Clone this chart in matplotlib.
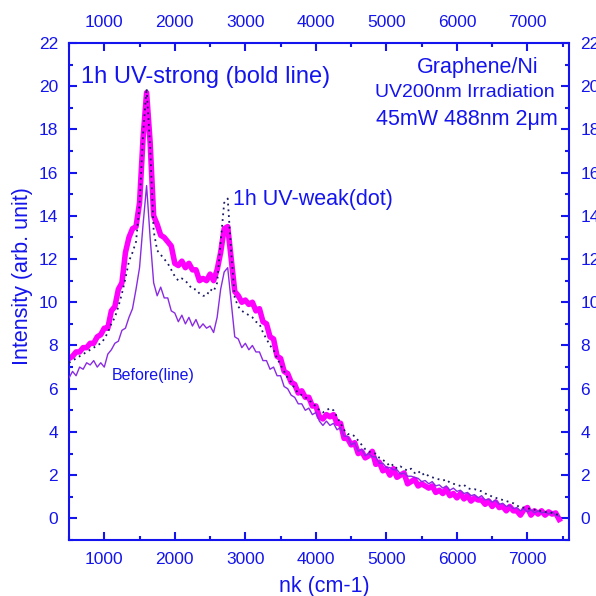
import numpy as np
import matplotlib
matplotlib.use("Agg")
import matplotlib.pyplot as plt
from matplotlib.ticker import MultipleLocator

plt.rcParams['font.family'] = ['Liberation Sans', 'DejaVu Sans']

# wavenumber grid (cm-1), one value every 50
wn = list(range(500, 7500, 50))

# 1h UV-strong (bold magenta line)
strong = [7.4, 7.5, 7.7, 7.7, 7.9, 7.9, 8.1, 8.1, 8.4, 8.5,
          8.8, 8.8, 9.6, 9.8, 10.6, 10.9, 12.3, 13.0, 13.4, 13.5,
          14.6, 17.6, 19.7, 17.4, 14.0, 13.6, 13.1, 13.0, 12.8, 12.6,
          11.8, 11.7, 11.9, 11.6, 11.8, 11.5, 11.5, 11.0, 11.1, 11.0,
          11.3, 11.0, 11.5, 12.3, 13.4, 13.5, 12.0, 10.5, 10.3, 10.0,
          10.1, 9.9, 10.0, 9.6, 9.7, 9.1, 9.0, 8.4, 8.3, 7.5,
          7.4, 6.8, 6.7, 6.3, 6.2, 5.8, 5.9, 5.6, 5.6, 5.2,
          5.2, 4.7, 4.6, 4.8, 4.7, 4.8, 4.4, 4.4, 3.7, 3.7,
          3.4, 3.5, 3.0, 3.1, 2.8, 2.9, 3.1, 2.5, 2.6, 2.2,
          2.3, 2.0, 2.3, 1.9, 2.0, 2.1, 1.6, 1.7, 1.8, 1.5,
          1.6, 1.5, 1.4, 1.5, 1.2, 1.3, 1.15, 1.35, 1.05, 1.15,
          0.95, 1.15, 0.9, 1.05, 0.8, 0.95, 0.85, 0.85, 0.65, 0.8,
          0.55, 0.75, 0.5, 0.55, 0.35, 0.55, 0.35, 0.35, 0.15, 0.4,
          0.5, 0.15, 0.35, 0.2, 0.35, 0.15, 0.3, 0.2, 0.25, -0.05]

# 1h UV-weak (dotted)
weak = [7.2, 7.3, 7.4, 7.5, 7.6, 7.7, 7.8, 7.9, 8.0, 8.1,
        8.3, 8.6, 9.0, 9.3, 9.8, 10.4, 11.1, 11.9, 12.3, 12.8,
        14.5, 17.8, 19.9, 17.2, 13.3, 12.4, 12.2, 12.0, 11.8, 11.5,
        11.2, 11.0, 11.1, 11.0, 10.8, 10.6, 10.6, 10.4, 10.3, 10.3,
        10.6, 10.5, 10.9, 12.8, 14.6, 14.8, 12.3, 10.2, 9.8, 9.6,
        9.5, 9.4, 9.3, 9.1, 9.0, 8.6, 8.3, 8.0, 7.8, 7.4,
        7.1, 6.8, 6.5, 6.3, 6.0, 5.8, 5.7, 5.6, 5.5, 5.3,
        5.2, 5.0, 4.9, 5.0, 5.1, 5.0, 4.7, 4.4, 4.1, 3.9,
        3.9, 3.8, 3.6, 3.4, 3.2, 3.1, 3.0, 3.0, 2.8, 2.7,
        2.6, 2.4, 2.5, 2.3, 2.4, 2.3, 2.2, 2.3, 2.1, 2.2,
        2.0, 2.1, 1.95, 1.9, 1.85, 1.8, 1.75, 1.8, 1.65, 1.6,
        1.55, 1.5, 1.55, 1.4, 1.35, 1.35, 1.3, 1.25, 1.15, 1.1,
        1.0, 0.95, 0.9, 0.85, 0.8, 0.75, 0.7, 0.6, 0.5, 0.5,
        0.45, 0.45, 0.4, 0.35, 0.35, 0.3, 0.3, 0.25, 0.2, 0.15]

# before irradiation (thin line)
before = [6.5, 6.8, 6.6, 7.0, 6.9, 7.2, 7.1, 7.3, 7.0, 7.2,
          7.0, 7.6, 7.8, 8.1, 8.2, 8.7, 8.8, 9.3, 9.7, 10.6,
          11.6, 13.6, 15.4, 13.0, 10.9, 10.3, 10.7, 10.2, 10.2, 9.6,
          9.5, 9.1, 9.4, 9.0, 9.3, 8.9, 9.2, 8.8, 9.0, 8.8,
          8.9, 8.6, 9.3, 10.6, 11.4, 11.6, 10.0, 8.4, 8.3, 7.9,
          8.1, 7.8, 8.0, 7.7, 7.7, 7.3, 7.3, 6.9, 7.0, 6.6,
          6.6, 6.1, 6.0, 5.7, 5.6, 5.3, 5.3, 5.0, 5.1, 4.8,
          4.9, 4.5, 4.3, 4.5, 4.3, 4.4, 4.1, 4.2, 3.8, 3.8,
          3.4, 3.5, 3.1, 3.2, 2.9, 3.0, 2.85, 2.85, 2.55, 2.55,
          2.35, 2.35, 2.25, 2.25, 2.05, 2.1, 1.95, 1.95, 1.9, 1.85,
          1.7, 1.75, 1.6, 1.7, 1.5, 1.55, 1.4, 1.5, 1.3, 1.4,
          1.25, 1.3, 1.15, 1.2, 1.05, 1.1, 0.95, 1.05, 0.85, 0.9,
          0.75, 0.85, 0.65, 0.7, 0.55, 0.6, 0.45, 0.5, 0.35, 0.45,
          0.3, 0.4, 0.25, 0.35, 0.25, 0.3, 0.2, 0.3, 0.15, 0.1]

blue = '#1414ee'

fig = plt.figure(figsize=(5.96, 5.96), dpi=100)
ax = fig.add_axes([0.1158, 0.094, 0.839, 0.834])

ax.plot(wn, strong, color='#ff00ff', lw=4, zorder=2)
ax.plot(wn, before, color='#8a2be2', lw=1.0, zorder=3)
ax.plot(wn, weak, color='#1a1a66', lw=1.3, ls=(0, (1, 2.2)), zorder=4)

ax.set_xlim(500, 7590)
ax.set_ylim(-1, 22)
ax.xaxis.set_major_locator(MultipleLocator(1000))
ax.xaxis.set_minor_locator(MultipleLocator(500))
ax.yaxis.set_major_locator(MultipleLocator(2))
ax.yaxis.set_minor_locator(MultipleLocator(1))

for s in ax.spines.values():
    s.set_color(blue)
    s.set_linewidth(1.5)
ax.tick_params(which='both', direction='in', colors=blue, width=1.5,
               top=True, right=True, labeltop=True, labelright=True,
               labelsize=12.5, pad=8)
ax.tick_params(which='major', length=6)
ax.tick_params(which='minor', length=3)
ax.tick_params(axis='x', which='major', pad=9)

ax.set_xlabel('nk (cm-1)', fontsize=15.5, color=blue)
ax.set_ylabel('Intensity (arb. unit)', fontsize=15.5, color=blue)
ax.xaxis.set_label_coords(0.51, -0.072)
ax.yaxis.set_label_coords(-0.072, 0.53)

ax.text(664, 20.4, '1h UV-strong (bold line)', fontsize=17, color=blue,
        ha='left', va='center')
ax.text(2821, 14.75, '1h UV-weak(dot)', fontsize=15.5, color=blue,
        ha='left', va='center')
ax.text(1104, 6.62, 'Before(line)', fontsize=11.5, color=blue,
        ha='left', va='center')
ax.text(6290, 20.85, 'Graphene/Ni', fontsize=15.5, color=blue,
        ha='center', va='center')
ax.text(6115, 19.7, 'UV200nm Irradiation', fontsize=14, color=blue,
        ha='center', va='center')
ax.text(6140, 18.47, '45mW 488nm 2μm', fontsize=15.5, color=blue,
        ha='center', va='center')

fig.savefig('out.png', dpi=100)
